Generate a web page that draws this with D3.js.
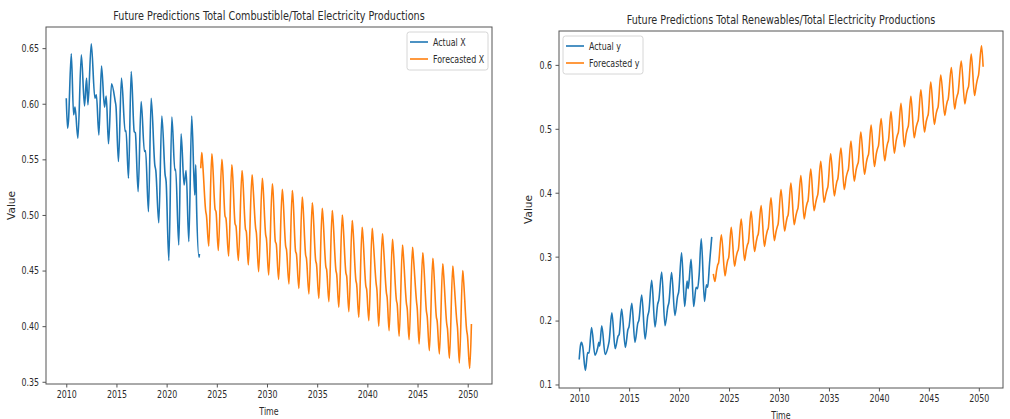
<!DOCTYPE html>
<html>
<head>
<meta charset="utf-8">
<script src="https://cdn.jsdelivr.net/npm/d3@7"></script>
<style>
  body { margin: 0; background: #fff; }
  text { font-family: "DejaVu Sans", sans-serif; fill: #2b2b2b; }
</style>
</head>
<body>
<script>
// data: [decimal year, value]
let actualX = [
  [2010.00,0.605],[2010.13,0.578],[2010.22,0.585],[2010.50,0.645],[2010.73,0.590],[2010.87,0.597],
  [2011.16,0.569],[2011.50,0.644],[2011.82,0.598],[2012.02,0.623],[2012.16,0.599],[2012.49,0.654],
  [2012.85,0.605],[2013.00,0.608],[2013.25,0.572],[2013.51,0.634],[2013.81,0.597],[2013.98,0.607],
  [2014.21,0.564],[2014.51,0.618],[2014.88,0.602],[2014.95,0.598],[2015.20,0.548],[2015.50,0.623],
  [2015.87,0.575],[2015.95,0.576],[2016.20,0.533],[2016.47,0.629],[2016.77,0.575],[2016.88,0.574],
  [2017.16,0.521],[2017.46,0.602],[2017.79,0.557],[2017.90,0.558],[2018.19,0.503],[2018.46,0.605],
  [2018.82,0.545],[2018.92,0.540],[2019.22,0.493],[2019.52,0.589],[2019.85,0.536],[2019.95,0.530],
  [2020.22,0.459],[2020.52,0.588],[2020.82,0.540],[2020.90,0.541],[2021.21,0.473],[2021.44,0.573],
  [2021.74,0.527],[2021.94,0.540],[2022.21,0.476],[2022.50,0.589],[2022.80,0.518],[2022.90,0.545],
  [2022.98,0.509],[2023.23,0.462],[2023.27,0.465]
];
let forecastX = [
  [2023.40,0.542],[2023.50,0.556],[2023.58,0.548],[2023.90,0.503],[2023.96,0.500],[2024.20,0.472],
  [2024.50,0.555],[2024.58,0.547],[2024.83,0.505],[2024.92,0.503],[2025.15,0.468],
  [2025.50,0.550],[2025.58,0.542],[2025.82,0.499],[2025.91,0.497],[2026.18,0.463],
  [2026.49,0.545],[2026.57,0.537],[2026.82,0.492],[2026.91,0.490],[2027.15,0.459],
  [2027.51,0.540],[2027.59,0.532],[2027.86,0.487],[2027.94,0.485],[2028.14,0.455],
  [2028.51,0.536],[2028.59,0.528],[2028.87,0.488],[2028.94,0.484],[2029.17,0.449],
  [2029.53,0.533],[2029.61,0.525],[2029.87,0.482],[2029.94,0.479],[2030.17,0.446],
  [2030.53,0.528],[2030.61,0.520],[2030.83,0.476],[2030.92,0.474],[2031.16,0.442],
  [2031.52,0.523],[2031.60,0.515],[2031.86,0.472],[2031.94,0.469],[2032.19,0.438],
  [2032.52,0.522],[2032.60,0.514],[2032.85,0.467],[2032.93,0.465],[2033.18,0.434],
  [2033.51,0.516],[2033.59,0.508],[2033.85,0.464],[2033.93,0.461],[2034.18,0.429],
  [2034.51,0.511],[2034.59,0.503],[2034.85,0.459],[2034.93,0.456],[2035.17,0.425],
  [2035.50,0.506],[2035.58,0.498],[2035.87,0.453],[2035.94,0.451],[2036.17,0.422],
  [2036.50,0.504],[2036.58,0.496],[2036.87,0.450],[2036.94,0.447],[2037.16,0.417],
  [2037.50,0.500],[2037.58,0.492],[2037.86,0.448],[2037.94,0.445],[2038.16,0.413],
  [2038.49,0.495],[2038.57,0.487],[2038.86,0.441],[2038.93,0.438],[2039.15,0.408],
  [2039.48,0.489],[2039.56,0.481],[2039.85,0.436],[2039.93,0.433],[2040.15,0.405],
  [2040.48,0.488],[2040.56,0.480],[2040.88,0.438],[2040.95,0.433],[2041.14,0.400],
  [2041.50,0.483],[2041.58,0.475],[2041.90,0.430],[2041.97,0.426],[2042.17,0.396],
  [2042.50,0.478],[2042.58,0.470],[2042.90,0.423],[2042.97,0.420],[2043.17,0.391],
  [2043.50,0.473],[2043.58,0.465],[2043.90,0.420],[2043.97,0.416],[2044.16,0.388],
  [2044.50,0.471],[2044.58,0.463],[2044.90,0.422],[2044.97,0.416],[2045.16,0.384],
  [2045.52,0.466],[2045.60,0.458],[2045.89,0.413],[2045.96,0.409],[2046.18,0.378],
  [2046.52,0.461],[2046.60,0.453],[2046.88,0.408],[2046.95,0.405],[2047.18,0.375],
  [2047.51,0.456],[2047.59,0.448],[2047.91,0.402],[2047.98,0.398],[2048.18,0.371],
  [2048.51,0.454],[2048.59,0.446],[2048.91,0.405],[2048.98,0.399],[2049.17,0.367],
  [2049.50,0.450],[2049.58,0.442],[2049.90,0.396],[2049.97,0.392],[2050.20,0.362],[2050.37,0.402]
];
let actualY = [
  [2010.00,0.139],[2010.12,0.160],[2010.22,0.166],[2010.35,0.160],[2010.62,0.122],[2010.85,0.150],
  [2010.98,0.149],[2011.24,0.189],[2011.58,0.146],[2011.85,0.157],[2011.97,0.166],[2012.05,0.160],
  [2012.26,0.192],[2012.60,0.147],[2012.90,0.160],[2013.00,0.168],[2013.27,0.212],[2013.60,0.156],
  [2013.90,0.176],[2014.00,0.178],[2014.25,0.218],[2014.62,0.158],[2014.88,0.186],[2014.98,0.190],
  [2015.27,0.227],[2015.58,0.166],[2015.87,0.196],[2015.97,0.200],[2016.26,0.240],[2016.60,0.171],
  [2016.87,0.208],[2016.97,0.214],[2017.26,0.263],[2017.59,0.190],[2017.86,0.226],[2017.97,0.232],
  [2018.26,0.276],[2018.59,0.192],[2018.88,0.222],[2018.98,0.228],[2019.25,0.275],[2019.58,0.208],
  [2019.85,0.238],[2019.96,0.245],[2020.25,0.306],[2020.56,0.222],[2020.80,0.262],[2020.90,0.250],
  [2021.00,0.262],[2021.20,0.296],[2021.46,0.222],[2021.70,0.252],[2021.85,0.250],[2022.00,0.270],
  [2022.22,0.328],[2022.54,0.230],[2022.74,0.256],[2022.86,0.252],[2023.05,0.290],[2023.27,0.331]
];
let forecastY = [
  [2023.43,0.273],[2023.58,0.261],[2023.75,0.278],[2023.86,0.287],[2023.95,0.290],[2024.23,0.334],
  [2024.60,0.270],[2024.75,0.285],[2024.88,0.295],[2024.96,0.298],[2025.22,0.346],
  [2025.55,0.285],[2025.72,0.300],[2025.85,0.308],[2025.93,0.311],[2026.22,0.359],
  [2026.55,0.294],[2026.72,0.310],[2026.85,0.319],[2026.93,0.322],[2027.21,0.371],
  [2027.55,0.308],[2027.72,0.323],[2027.84,0.332],[2027.92,0.335],[2028.21,0.380],
  [2028.54,0.316],[2028.71,0.332],[2028.84,0.341],[2028.92,0.344],[2029.20,0.392],
  [2029.53,0.325],[2029.70,0.339],[2029.83,0.347],[2029.91,0.351],[2030.20,0.405],
  [2030.56,0.340],[2030.72,0.354],[2030.83,0.362],[2030.91,0.365],[2031.19,0.415],
  [2031.52,0.350],[2031.69,0.364],[2031.82,0.372],[2031.90,0.376],[2032.19,0.427],
  [2032.52,0.359],[2032.69,0.375],[2032.82,0.384],[2032.90,0.387],[2033.18,0.437],
  [2033.51,0.372],[2033.68,0.385],[2033.80,0.393],[2033.88,0.397],[2034.18,0.449],
  [2034.51,0.385],[2034.68,0.397],[2034.81,0.405],[2034.89,0.409],[2035.17,0.461],
  [2035.54,0.395],[2035.70,0.410],[2035.80,0.418],[2035.88,0.421],[2036.20,0.470],
  [2036.53,0.405],[2036.72,0.424],[2036.87,0.433],[2036.94,0.436],[2037.20,0.481],
  [2037.53,0.418],[2037.72,0.436],[2037.86,0.444],[2037.93,0.447],[2038.19,0.495],
  [2038.56,0.429],[2038.75,0.448],[2038.89,0.457],[2038.96,0.460],[2039.22,0.506],
  [2039.55,0.441],[2039.74,0.461],[2039.88,0.470],[2039.95,0.473],[2040.22,0.516],
  [2040.58,0.450],[2040.76,0.469],[2040.88,0.478],[2040.95,0.481],[2041.21,0.527],
  [2041.54,0.462],[2041.73,0.482],[2041.87,0.491],[2041.94,0.494],[2042.21,0.540],
  [2042.54,0.472],[2042.73,0.492],[2042.87,0.501],[2042.94,0.504],[2043.20,0.551],
  [2043.53,0.486],[2043.72,0.502],[2043.86,0.510],[2043.93,0.513],[2044.20,0.561],
  [2044.56,0.495],[2044.73,0.511],[2044.86,0.519],[2044.93,0.522],[2045.19,0.573],
  [2045.55,0.507],[2045.72,0.523],[2045.85,0.531],[2045.92,0.534],[2046.19,0.584],
  [2046.59,0.521],[2046.74,0.535],[2046.85,0.543],[2046.93,0.546],[2047.25,0.596],
  [2047.58,0.531],[2047.73,0.545],[2047.84,0.552],[2047.92,0.556],[2048.24,0.606],
  [2048.60,0.539],[2048.77,0.555],[2048.90,0.563],[2048.97,0.566],[2049.24,0.617],
  [2049.57,0.552],[2049.76,0.570],[2049.90,0.580],[2049.97,0.584],[2050.27,0.630],[2050.43,0.597]
];

let xTicks = [2010, 2015, 2020, 2025, 2030, 2035, 2040, 2045, 2050];
let leftYTicks = [0.35, 0.40, 0.45, 0.50, 0.55, 0.60, 0.65];
let rightYTicks = [0.1, 0.2, 0.3, 0.4, 0.5, 0.6];

let blue = "#1f77b4", orange = "#ff7f0e";

let svg = d3.select("body").append("svg")
    .attr("width", 1010)
    .attr("height", 419);

svg.append("rect").attr("width", 1010).attr("height", 419).attr("fill", "#fff");

function panel(cfg) {
    let b = cfg.box;
    let x = d3.scaleLinear().domain([2007.98, 2052.42]).range([b.left, b.right]);
    let y = d3.scaleLinear().domain(cfg.yDomain).range([b.bottom, b.top]);
    let g = svg.append("g");

    // the two series
    let line = d3.line()
        .curve(d3.curveMonotoneX)
        .x(function(d) { return x(d[0]); })
        .y(function(d) { return y(d[1]); });

    g.append("path").datum(cfg.actual)
        .attr("fill", "none").attr("stroke", blue)
        .attr("stroke-width", 1.6).attr("stroke-linejoin", "round")
        .attr("d", line);
    g.append("path").datum(cfg.forecast)
        .attr("fill", "none").attr("stroke", orange)
        .attr("stroke-width", 1.6).attr("stroke-linejoin", "round")
        .attr("d", line);

    // axes
    let xa = g.append("g")
        .attr("transform", "translate(0," + b.bottom + ")")
        .call(d3.axisBottom(x).tickValues(xTicks).tickFormat(d3.format("d"))
            .tickSize(3.5).tickPadding(3.5));
    let ya = g.append("g")
        .attr("transform", "translate(" + b.left + ",0)")
        .call(d3.axisLeft(y).tickValues(cfg.yTicks).tickFormat(d3.format(cfg.yFormat))
            .tickSize(3.5).tickPadding(3.5));
    [xa, ya].forEach(function(a) {
        a.select(".domain").remove();
        a.selectAll("line").attr("stroke", "#555");
        a.selectAll("text").attr("font-size", 10.5).attr("fill", "#2b2b2b")
            .style("font-family", '"DejaVu Sans", sans-serif');
    });

    // frame
    g.append("rect")
        .attr("x", b.left).attr("y", b.top)
        .attr("width", b.right - b.left).attr("height", b.bottom - b.top)
        .attr("fill", "none").attr("stroke", "#555").attr("stroke-width", 1);

    // labels
    g.append("text").attr("class", "sq")
        .attr("x", (b.left + b.right) / 2).attr("y", b.top - 7)
        .attr("text-anchor", "middle").attr("font-size", 12.5)
        .text(cfg.title);
    g.append("text").attr("class", "sq")
        .attr("x", (b.left + b.right) / 2).attr("y", b.bottom + 31)
        .attr("text-anchor", "middle").attr("font-size", 10.5)
        .text("Time");
    g.append("text")
        .attr("transform", "translate(" + cfg.ylabelX + "," + ((b.top + b.bottom) / 2) + ") rotate(-90)")
        .attr("text-anchor", "middle").attr("font-size", 10.5)
        .text("Value");

    // legend
    let L = cfg.legend;
    let lg = g.append("g").attr("transform", "translate(" + L.x + "," + L.y + ")");
    lg.append("rect").attr("width", L.w).attr("height", 38).attr("rx", 2.5)
        .attr("fill", "#fff").attr("fill-opacity", 0.8)
        .attr("stroke", "#d6d6d6").attr("stroke-width", 1);
    L.labels.forEach(function(t, i) {
        let yy = 10 + i * 17;
        lg.append("line").attr("x1", 3).attr("x2", 21).attr("y1", yy).attr("y2", yy)
            .attr("stroke", i === 0 ? blue : orange).attr("stroke-width", 1.6);
        lg.append("text").attr("class", "sq")
            .attr("x", 26).attr("y", yy + 3.5).attr("font-size", 10.5)
            .text(t);
    });
}

panel({
    box: {left: 46, right: 492, top: 27, bottom: 384},
    yDomain: [0.348, 0.669],
    yTicks: leftYTicks, yFormat: ".2f",
    actual: actualX, forecast: forecastX,
    title: "Future Predictions Total Combustible/Total Electricity Productions",
    ylabelX: 15,
    legend: {x: 407, y: 32, w: 81, labels: ["Actual X", "Forecasted X"]}
});

panel({
    box: {left: 559, right: 1003, top: 31, bottom: 388},
    yDomain: [0.0945, 0.653],
    yTicks: rightYTicks, yFormat: ".1f",
    actual: actualY, forecast: forecastY,
    title: "Future Predictions Total Renewables/Total Electricity Productions",
    ylabelX: 532,
    legend: {x: 563, y: 36, w: 80, labels: ["Actual y", "Forecasted y"]}
});

// the picture's text is horizontally narrow: squeeze glyphs to match
svg.selectAll(".tick text, text.sq").each(function() {
    let w = this.getComputedTextLength();
    let k = this.classList.contains("sq") && +this.getAttribute("font-size") > 12 ? 0.77 : 0.75;
    d3.select(this).attr("textLength", w * k).attr("lengthAdjust", "spacingAndGlyphs");
});
</script>
</body>
</html>
